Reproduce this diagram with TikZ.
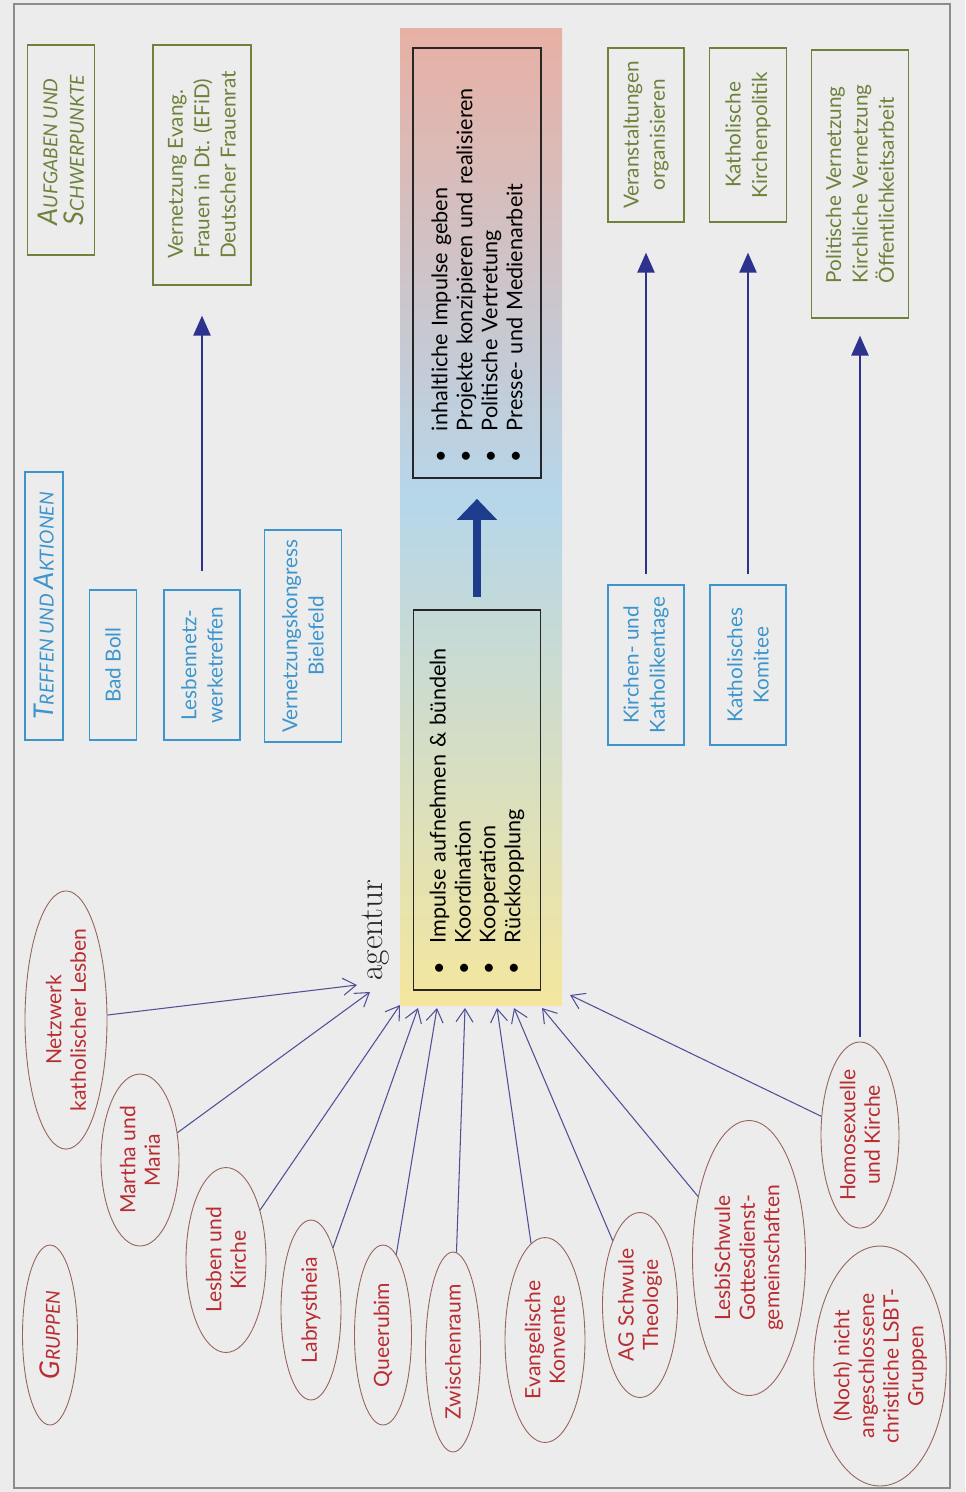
\documentclass[tikz,border=0pt]{standalone}
\usepackage{fontspec}
\newfontfamily\labelfont{Lato}
\usetikzlibrary{shapes.geometric,arrows.meta}

\definecolor{paper}{RGB}{236,236,236}
\definecolor{framegray}{RGB}{140,140,140}
\definecolor{olivebox}{RGB}{110,130,60}
\definecolor{bluebox}{RGB}{60,150,205}
\definecolor{grouptext}{RGB}{185,45,50}
\definecolor{ellline}{RGB}{150,100,90}
\definecolor{arrowblue}{RGB}{80,80,150}
\definecolor{linkblue}{RGB}{45,50,140}
\definecolor{flowblue}{RGB}{30,60,140}
\definecolor{barpink}{RGB}{232,176,164}
\definecolor{bargray}{RGB}{202,198,204}
\definecolor{barblue}{RGB}{182,214,234}
\definecolor{bargreen}{RGB}{208,214,208}
\definecolor{baryellow}{RGB}{244,230,158}

% italic small caps look
\newcommand{\kap}[2]{{\itshape{\fontsize{15.5}{17}\selectfont #1}{\fontsize{11}{13}\selectfont #2}}}

\begin{document}
\begin{tikzpicture}[x=0.02cm, y=-0.02cm]
    % Define styles
    \tikzstyle{task}=[rectangle, draw=olivebox, text=olivebox, line width=0.7pt, rotate=90, inner sep=0pt, font=\labelfont\fontsize{11.8}{15}\selectfont]
    \tikzstyle{event}=[rectangle, draw=bluebox, text=bluebox, line width=0.7pt, rotate=90, inner sep=0pt, align=center, font=\labelfont\fontsize{11.8}{15}\selectfont]
    \tikzstyle{group}=[ellipse, draw=ellline, text=grouptext, line width=0.5pt, rotate=90, inner sep=0pt, align=center, font=\labelfont\fontsize{12}{14}\selectfont]
    \tikzstyle{focus}=[rectangle, draw=black!85, line width=1pt, rotate=90, inner xsep=0.3cm, align=left, font=\labelfont\fontsize{12.3}{14.2}\selectfont]
    \tikzstyle{arrow}=[-{Straight Barb[length=2.6mm,width=3.4mm]}, draw=arrowblue, line width=0.6pt]
    \tikzstyle{link}=[-{Triangle[length=4mm,width=3.4mm]}, draw=linkblue, line width=1.3pt, shorten >=0.6cm]
    \tikzstyle{flow}=[-{Triangle[length=4.2mm,width=7.8mm]}, draw=flowblue, line width=4.8pt]

    % Page
    \useasboundingbox (0,0) rectangle (965,1492);
    \fill[paper] (0,0) rectangle (965,1492);
    \draw[framegray, line width=0.6pt] (14,4) rectangle (950,1488);

    % Colour bar in the middle
    \shade[top color=barpink, middle color=bargray, bottom color=barblue] (400,28) rectangle (562,500);
    \shade[top color=barblue, middle color=bargreen, bottom color=baryellow] (400,500) rectangle (562,1005);

    % Tasks and focus
    \node[task, minimum width=4.2cm, minimum height=1.34cm, align=left] (aufgaben) at (61,150) {\kap{A}{UFGABEN UND}\\\kap{S}{CHWERPUNKTE}};
    \node[task, minimum width=4.8cm, minimum height=1.96cm, align=left] (efid) at (202,165) {Vernetzung Evang.\\Frauen in Dt. (EFiD)\\Deutscher Frauenrat};
    \node[task, minimum width=3.48cm, minimum height=1.52cm, align=center] (veranst) at (646,135) {Veranstaltungen\\organisieren};
    \node[task, minimum width=3.48cm, minimum height=1.54cm, align=center] (kirchpol) at (748,135) {Katholische\\Kirchenpolitik};
    \node[task, minimum width=5.36cm, minimum height=1.94cm, align=left] (politik) at (860,184) {Politische Vernetzung\\Kirchliche Vernetzung\\Öffentlichkeitsarbeit};

    % Meetings and actions
    \node[event, minimum width=5.36cm, minimum height=0.76cm] (treffen) at (44,606) {\kap{T}{REFFEN UND }\kap{A}{KTIONEN}};
    \node[event, minimum width=3cm, minimum height=0.94cm] (badboll) at (113,665) {Bad Boll};
    \node[event, minimum width=3cm, minimum height=1.52cm] (lesbennetz) at (202,665) {Lesbennetz-\\werketreffen};
    \node[event, minimum width=4.24cm, minimum height=1.54cm] (kongress) at (303,636) {Vernetzungskongress\\Bielefeld};
    \node[event, minimum width=3.2cm, minimum height=1.52cm] (katholikentage) at (646,665) {Kirchen- und\\Katholikentage};
    \node[event, minimum width=3.2cm, minimum height=1.52cm] (komitee) at (748,665) {Katholisches\\Komitee};

    % Agency
    \node[focus, minimum width=8.6cm, minimum height=2.56cm, text width=8cm] (impulse) at (477,263)
        {\textbullet\hspace{0.9em}inhaltliche Impulse geben\\
         \textbullet\hspace{0.9em}Projekte konzipieren und realisieren\\
         \textbullet\hspace{0.9em}Politische Vertretung\\
         \textbullet\hspace{0.9em}Presse- und Medienarbeit};
    \node[focus, minimum width=7.6cm, minimum height=2.54cm, text width=7cm] (buendeln) at (477,800)
        {\textbullet\hspace{0.9em}Impulse aufnehmen \& bündeln\\
         \textbullet\hspace{0.9em}Koordination\\
         \textbullet\hspace{0.9em}Kooperation\\
         \textbullet\hspace{0.9em}Rückkopplung};
    \node[rotate=90, font=\rmfamily\fontsize{19}{22}\selectfont, text=black!85] (agentur) at (376,930) {agentur};

    % Groups
    \node[group, minimum width=3.6cm, minimum height=1.1cm] (gruppen) at (50,1335) {\kap{G}{RUPPEN}};
    \node[group, minimum width=3.6cm, minimum height=1.64cm] (netzwerk) at (66,1020) {Netzwerk\\katholischer Lesben};
    \node[group, minimum width=3.44cm, minimum height=1.56cm] (martha) at (140,1160) {Martha und\\Maria};
    \node[group, minimum width=3.7cm, minimum height=1.6cm] (lesbkirche) at (226,1260) {Lesben und\\Kirche};
    \node[group, minimum width=3.6cm, minimum height=1.2cm] (labrys) at (311,1310) {Labrystheia};
    \node[group, minimum width=3.6cm, minimum height=1.14cm] (queer) at (383,1335) {Queerubim};
    \node[group, minimum width=4cm, minimum height=1.1cm] (zwischen) at (453,1352) {Zwischenraum};
    \node[group, minimum width=4.1cm, minimum height=1.6cm] (evang) at (545,1340) {Evangelische\\Konvente};
    \node[group, minimum width=3.7cm, minimum height=1.5cm] (agschwul) at (640,1305) {AG Schwule\\Theologie};
    \node[group, minimum width=5.5cm, minimum height=2.26cm] (lesbisch) at (749,1258) {LesbiSchwule\\Gottesdienst-\\gemeinschaften};
    \node[group, minimum width=3.6cm, minimum height=1.56cm] (homo) at (860,1135) {Homosexuelle\\und Kirche};
    \node[group, minimum width=4.8cm, minimum height=2.44cm] (noch) at (880,1366) {(Noch) nicht\\angeschlossene\\christliche LSBT-\\Gruppen};

    % Arrow ends at the bar
    \coordinate (in1) at (357,985);
    \coordinate (in2) at (370,992);
    \coordinate (in3) at (400,1005);
    \coordinate (in4) at (418,1008);
    \coordinate (in5) at (437,1008);
    \coordinate (in6) at (465,1008);
    \coordinate (in7) at (497,1008);
    \coordinate (in8) at (514,1008);
    \coordinate (in9) at (542,1008);
    \coordinate (in10) at (570,995);

    % Connections
    \draw[arrow] (netzwerk) -- (in1);
    \draw[arrow] (martha) -- (in2);
    \draw[arrow] (lesbkirche) -- (in3);
    \draw[arrow] (labrys) -- (in4);
    \draw[arrow] (queer) -- (in5);
    \draw[arrow] (zwischen) -- (in6);
    \draw[arrow] (evang) -- (in7);
    \draw[arrow] (agschwul) -- (in8);
    \draw[arrow] (lesbisch) -- (in9);
    \draw[arrow] (homo) -- (in10);
    \draw[link, shorten <=0.36cm] (lesbennetz) -- (efid);
    \draw[link, shorten <=0.2cm] (katholikentage) -- (veranst);
    \draw[link, shorten <=0.2cm] (komitee) -- (kirchpol);
    \draw[link, shorten <=0.1cm, shorten >=0.34cm] (homo) -- (politik);
    \draw[flow, shorten <=0.24cm, shorten >=0.4cm] (buendeln) -- (impulse);
\end{tikzpicture}
\end{document}
